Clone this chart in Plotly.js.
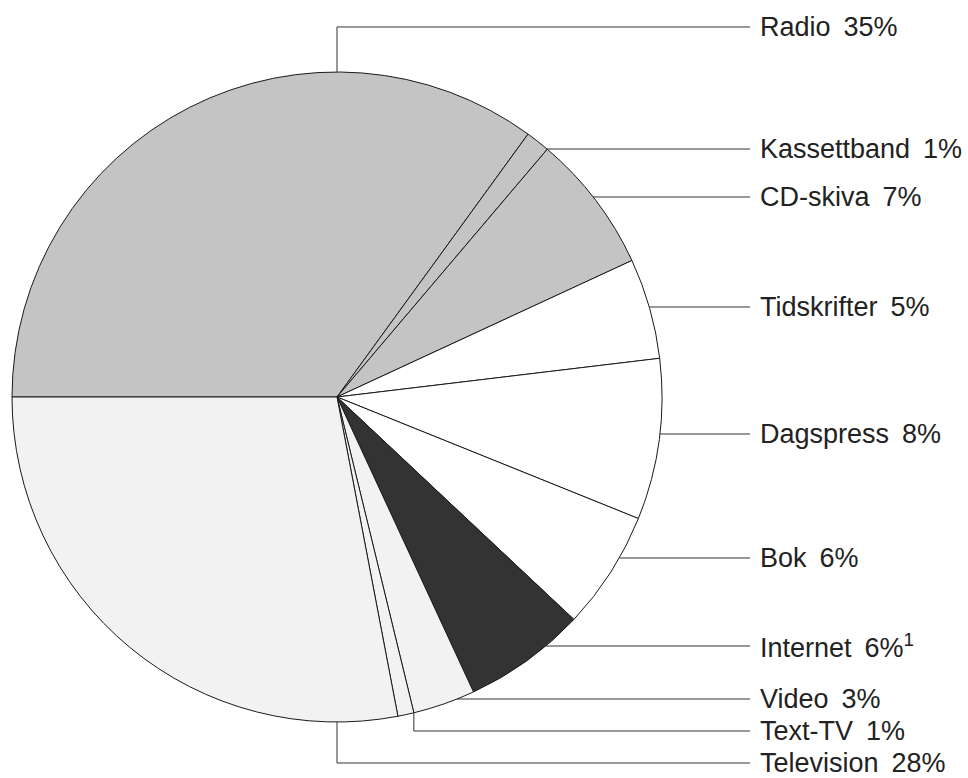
<!DOCTYPE html>
<html>
<head>
<meta charset="utf-8">
<script src="https://cdn.plot.ly/plotly-3.0.1.min.js"></script>
<style>
  html, body { margin: 0; padding: 0; background: #ffffff; }
  #chart { width: 968px; height: 778px; }
</style>
</head>
<body>
<div id="chart"></div>
<script>
// ---- Data ----
const categories = ["Radio", "Kassettband", "CD-skiva", "Tidskrifter", "Dagspress", "Bok", "Internet", "Video", "Text-TV", "Television"];
const values = [35.0, 1.2, 6.9, 5.0, 8.0, 5.9, 6.1, 3.1, 0.8, 28.0];
const percentLabels = ["35%", "1%", "7%", "5%", "8%", "6%", "6%<sup>1</sup>", "3%", "1%", "28%"];
const colors = ["#c4c4c4", "#c4c4c4", "#c4c4c4", "#ffffff", "#ffffff", "#ffffff", "#333333", "#f2f2f2", "#f2f2f2", "#f2f2f2"];

// ---- Layout (pixels) ----
const W = 968, H = 778;
const cx = 337, cy = 397, R = 325;
const startAngle = 270; // degrees clockwise from 12 o'clock
const labelY = [27, 149, 197, 307, 434, 558, 646, 699, 731, 763];
// leader type: "h" = horizontal from right edge; "top"/"bottom"/"start" = elbow
const leaderType = ["top", "h", "h", "h", "h", "h", "h", "h", "start", "bottom"];
const lineEndX = 750, textX = 758;

const px = x => x / W;
const py = y => 1 - y / H;

const total = values.reduce((a, b) => a + b, 0);
const shapes = [];
const annotations = [];
let cum = 0;
categories.forEach((c, i) => {
  const a0 = startAngle + 360 * cum / total;
  cum += values[i];
  const ly = labelY[i];
  let pts;
  if (leaderType[i] === "h") {
    const dy = ly - cy;
    const ex = cx + Math.sqrt(Math.max(R * R - dy * dy, 0));
    pts = [[ex, ly], [lineEndX, ly]];
  } else {
    let ang;
    if (leaderType[i] === "top") ang = 0;
    else if (leaderType[i] === "bottom") ang = 180;
    else ang = a0;
    const rad = ang * Math.PI / 180;
    const ex = cx + R * Math.sin(rad);
    const ey = cy - R * Math.cos(rad);
    pts = [[ex, ey], [ex, ly], [lineEndX, ly]];
  }
  const path = pts.map((p, k) => (k === 0 ? "M" : "L") + px(p[0]).toFixed(5) + "," + py(p[1]).toFixed(5)).join(" ");
  shapes.push({ type: "path", xref: "paper", yref: "paper", path: path, line: { color: "#333333", width: 1 } });
  annotations.push({
    xref: "paper", yref: "paper", x: px(textX), y: py(ly),
    xanchor: "left", yanchor: "middle", showarrow: false,
    text: c + "\u00a0\u2009" + percentLabels[i],
    font: { family: "Liberation Sans, Arial, sans-serif", size: 27, color: "#222222" }
  });
});

const data = [{
  type: "pie",
  labels: categories,
  values: values,
  sort: false,
  direction: "clockwise",
  rotation: startAngle,
  textinfo: "none",
  hoverinfo: "label+percent",
  marker: { colors: colors, line: { color: "#1a1a1a", width: 1 } },
  domain: { x: [px(cx - R), px(cx + R)], y: [py(cy + R), py(cy - R)] },
  showlegend: false
}];

const layout = {
  width: W, height: H,
  margin: { l: 0, r: 0, t: 0, b: 0 },
  paper_bgcolor: "#ffffff",
  plot_bgcolor: "#ffffff",
  showlegend: false,
  shapes: shapes,
  annotations: annotations
};

Plotly.newPlot("chart", data, layout, { displayModeBar: false, staticPlot: true });
</script>
</body>
</html>
